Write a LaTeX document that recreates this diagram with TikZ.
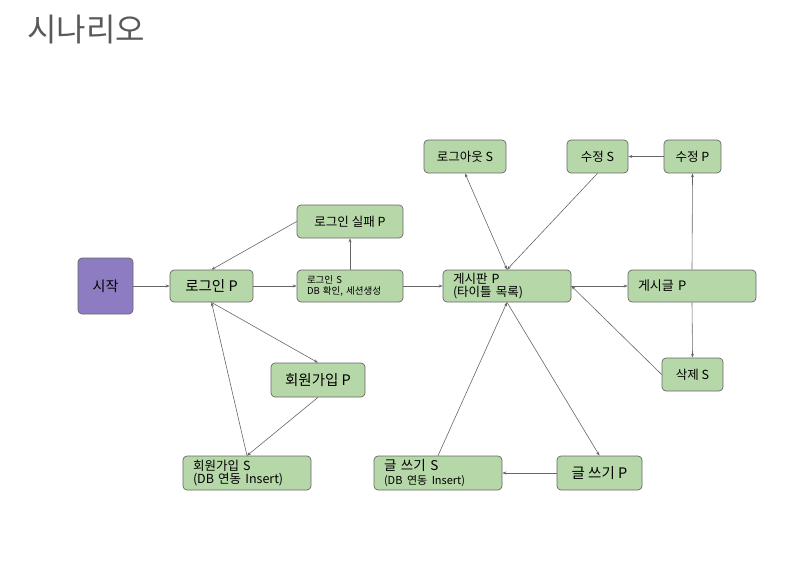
\documentclass[tikz,border=0pt]{standalone}
\usepackage{fontspec}
\setmainfont{Noto Sans CJK KR}
\usetikzlibrary{arrows.meta}
\definecolor{boxgreen}{HTML}{B6D7A8}
\definecolor{boxpurple}{HTML}{8E7CC3}
\definecolor{edge}{HTML}{666666}
\definecolor{titlegray}{HTML}{595959}
\tikzset{
  base/.style={draw=edge, line width=0.7pt, rounded corners=4pt, inner sep=0pt, font=\fontsize{13}{15}\selectfont},
  gbox/.style={base, fill=boxgreen, align=center},
  lbox/.style 2 args={base, fill=boxgreen, minimum width=#1, minimum height=#2, text width=#1-20pt, inner xsep=10pt, align=left},
  conn/.style={draw=edge, line width=0.6pt, -{Stealth[length=4pt,width=3pt]}},
}
\begin{document}
\begin{tikzpicture}[x=1pt,y=-1pt]
\useasboundingbox (0,0) rectangle (789,564);
\node[anchor=west, inner sep=0pt, text=titlegray, font=\fontsize{32}{34}\selectfont] (title) at (27,30) {시나리오};

\node[base, fill=boxpurple, minimum width=55pt, minimum height=56pt, font=\fontsize{14}{16}\selectfont] (start) at (105.5,286) {시작};
\node[gbox, minimum width=83pt, minimum height=32pt, font=\fontsize{14.5}{16}\selectfont] (loginP) at (211.5,286) {로그인 P};
\node[gbox, minimum width=106pt, minimum height=33pt, font=\fontsize{12.5}{14}\selectfont] (failP) at (350,221.5) {로그인 실패 P};
\node[lbox={106pt}{32pt}, font=\fontsize{9.5}{11}\selectfont] (loginS) at (350,286) {로그인 S\\DB 확인, 세션생성};
\node[gbox, minimum width=94pt, minimum height=34pt, font=\fontsize{14.5}{16}\selectfont] (joinP) at (318,380) {회원가입 P};
\node[lbox={128pt}{34pt}, font=\fontsize{12.5}{13.5}\selectfont] (joinS) at (247,473) {회원가입 S\\(DB 연동 Insert)};
\node[lbox={128pt}{32pt}, font=\fontsize{12.5}{13.5}\selectfont] (boardP) at (507,286) {게시판 P\\(타이틀 목록)};
\node[gbox, minimum width=82pt, minimum height=33pt, font=\fontsize{12.5}{14}\selectfont] (logoutS) at (465,156.5) {로그아웃 S};
\node[gbox, minimum width=61pt, minimum height=33pt, font=\fontsize{12.5}{14}\selectfont] (editS) at (597.5,156.5) {수정 S};
\node[gbox, minimum width=57pt, minimum height=33pt, font=\fontsize{12.5}{14}\selectfont] (editP) at (692.5,156.5) {수정 P};
\node[lbox={128pt}{32pt}, font=\fontsize{13}{14}\selectfont] (postP) at (692,286) {게시글 P};
\node[gbox, minimum width=61pt, minimum height=33pt, font=\fontsize{12.5}{14}\selectfont] (delS) at (692.5,374.5) {삭제 S};
\node[lbox={128pt}{34pt}, font=\fontsize{13.5}{14}\selectfont] (writeS) at (438,473) {글 쓰기 S\\{\fontsize{11}{12}\selectfont(DB 연동 Insert)}};
\node[gbox, minimum width=85pt, minimum height=34pt, font=\fontsize{14.5}{16}\selectfont] (writeP) at (599.5,473) {글 쓰기 P};

\draw[conn] (start) -- (loginP);
\draw[conn] (loginP) -- (loginS);
\draw[conn] (loginS) -- (failP);
\draw[conn] (failP.west) -- (loginP.north);
\draw[conn] (loginP.south) -- (joinP.north);
\draw[conn] (joinP.south) -- (joinS.north);
\draw[conn] (joinS.north) -- (loginP.south);
\draw[conn] (loginS) -- (boardP);
\draw[conn, {Stealth[length=4pt,width=3pt]}-{Stealth[length=4pt,width=3pt]}] (logoutS.south) -- (boardP.north);
\draw[conn] (editS.south) -- (boardP.north);
\draw[conn] (editP) -- (editS);
\draw[conn] (boardP) -- (postP);
\draw[conn] (postP.north) -- (editP.south);
\draw[conn] (postP.south) -- (delS.north);
\draw[conn] (delS.west) -- (boardP.east);
\draw[conn] (boardP.south) -- (writeP.north);
\draw[conn] (writeP) -- (writeS);
\draw[conn] (writeS.north) -- (boardP.south);
\end{tikzpicture}
\end{document}
